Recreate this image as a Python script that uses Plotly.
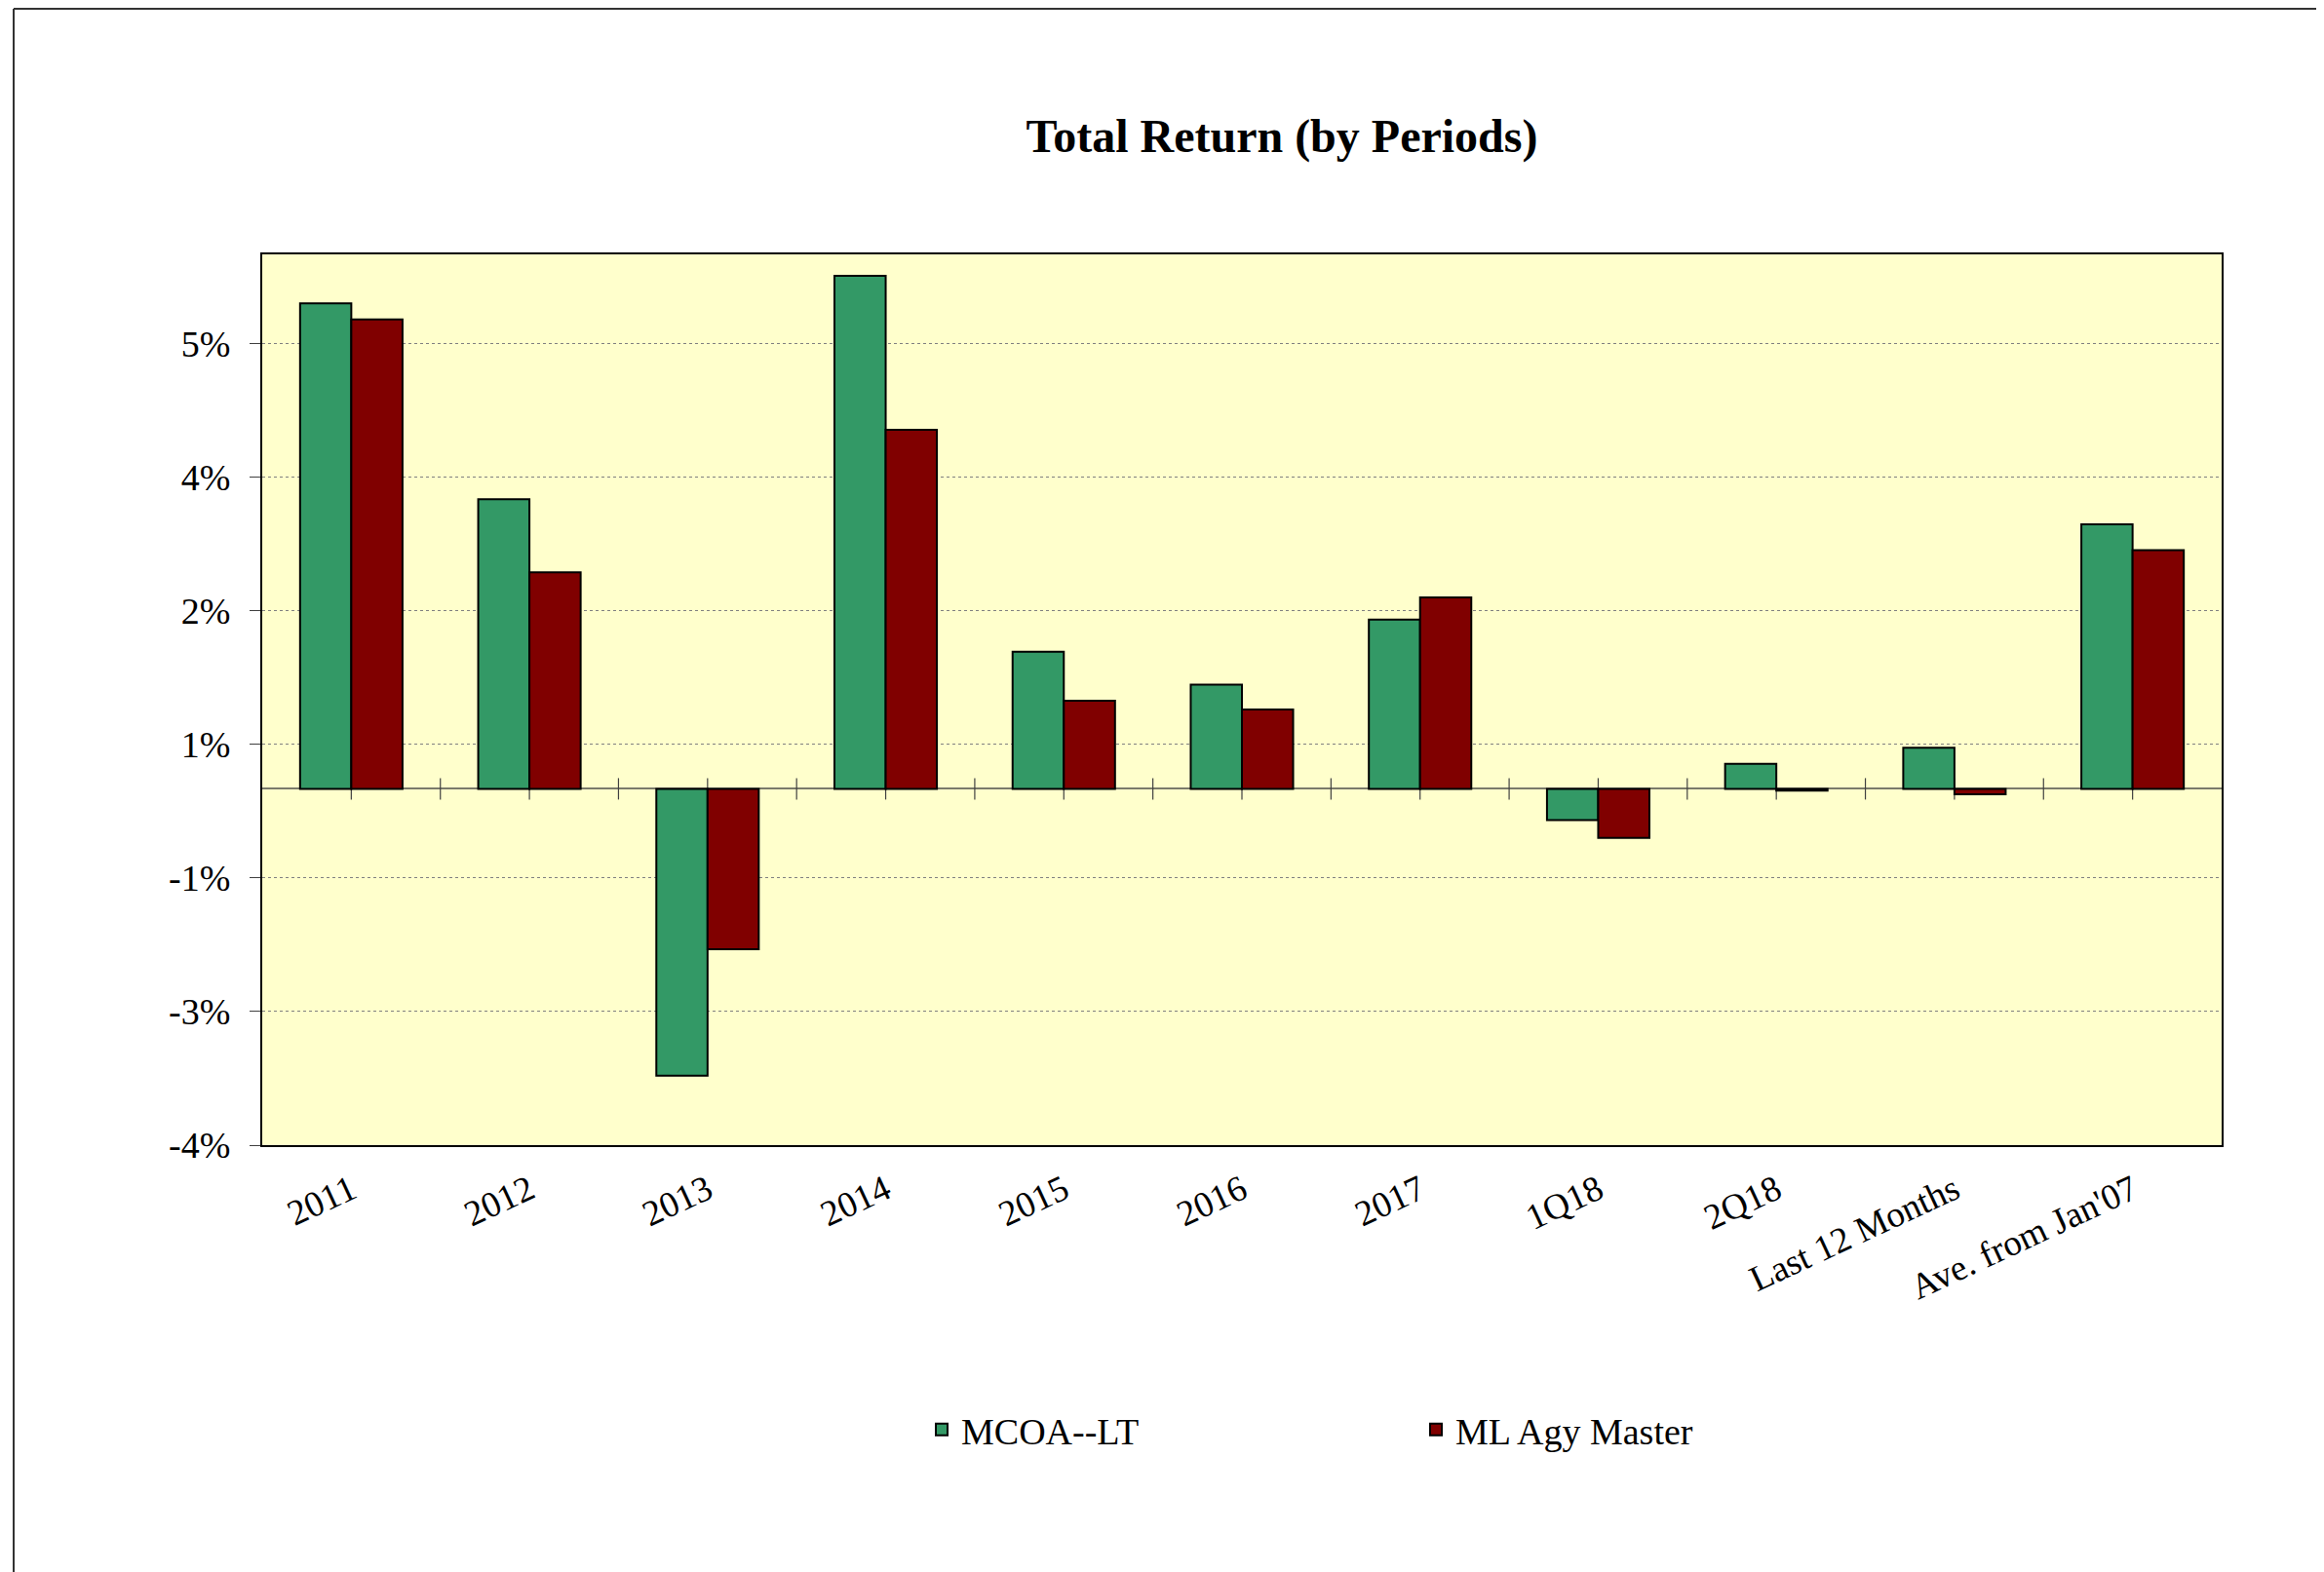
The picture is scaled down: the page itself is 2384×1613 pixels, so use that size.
import plotly.graph_objects as go

categories = ["2011", "2012", "2013", "2014", "2015", "2016", "2017",
              "1Q18", "2Q18", "Last 12 Months", "Ave. from Jan'07"]
mcoa_lt = [5.45, 3.25, -3.22, 5.76, 1.54, 1.17, 1.90, -0.35, 0.28, 0.46, 2.97]
ml_agy_master = [5.27, 2.43, -1.80, 4.03, 0.99, 0.89, 2.15, -0.55, -0.02, -0.06, 2.68]

y_tickvals = [-4, -2.5, -1, 0.5, 2, 3.5, 5]
y_ticktext = ["-4%", "-3%", "-1%", "1%", "2%", "4%", "5%"]

OFF = 8  # page body margin
W, H = 2384 - OFF, 1613 - OFF
PLOT_L, PLOT_R, PLOT_T, PLOT_B = 269, 2279, 261, 1175  # page pixel positions
L = PLOT_L - OFF
T = PLOT_T - OFF
R = OFF + W - PLOT_R
B = OFF + H - PLOT_B
pw, ph = PLOT_R - PLOT_L, PLOT_B - PLOT_T

FONT = "Liberation Serif"

fig = go.Figure()
fig.add_trace(go.Bar(name="MCOA--LT", x=categories, y=mcoa_lt,
                     marker=dict(color="#339966", line=dict(color="black", width=2))))
fig.add_trace(go.Bar(name="ML Agy Master", x=categories, y=ml_agy_master,
                     marker=dict(color="#800000", line=dict(color="black", width=2))))


def px_x(px):
    return (px - PLOT_L) / pw


def px_y(py):
    return (PLOT_B - py) / ph


shapes = []
# tick marks crossing the zero line, at category centers and boundaries
n = len(categories)
positions = [i for i in range(n)] + [i + 0.5 for i in range(n - 1)]
for p in positions:
    shapes.append(dict(type="line", xref="x", yref="y", x0=p, x1=p,
                       ysizemode="pixel", yanchor=0, y0=-11, y1=11,
                       line=dict(color="#404040", width=1.2), layer="between"))

# outer chart border (top & left visible)
shapes.append(dict(type="line", xref="paper", yref="paper",
                   x0=px_x(14), x1=px_x(2420), y0=px_y(9), y1=px_y(9),
                   line=dict(color="#333333", width=2), layer="above"))
shapes.append(dict(type="line", xref="paper", yref="paper",
                   x0=px_x(14), x1=px_x(14), y0=px_y(9), y1=px_y(1650),
                   line=dict(color="#333333", width=2), layer="above"))

fig.update_layout(
    width=W, height=H,
    margin=dict(l=L, r=R, t=T, b=B),
    paper_bgcolor="white",
    plot_bgcolor="#FFFFCC",
    font=dict(family=FONT, size=36, color="black"),
    barmode="group",
    bargap=0.425,
    bargroupgap=0,
    title=dict(text="<b>Total Return (by Periods)</b>",
               font=dict(family=FONT, size=48, color="black"),
               x=px_x(1315), xref="paper", xanchor="center",
               y=1 - (139 - OFF) / H, yref="container", yanchor="middle"),
    showlegend=True,
    legend=dict(orientation="h", x=px_x(946), xanchor="left",
                y=px_y(1467), yanchor="middle",
                font=dict(family=FONT, size=38, color="black"),
                entrywidth=462, entrywidthmode="pixels",
                bgcolor="rgba(0,0,0,0)"),
    shapes=shapes,
)

fig.update_xaxes(
    type="category",
    range=[-0.5, n - 0.5],
    showline=True, linecolor="black", linewidth=2, mirror=True,
    ticks="", tickangle=-25,
    tickfont=dict(family=FONT, size=37, color="black"),
    ticklabelstandoff=8,
    showgrid=False, zeroline=False,
)

fig.update_yaxes(
    range=[-4, 6],
    tickvals=y_tickvals, ticktext=y_ticktext,
    showline=True, linecolor="black", linewidth=2, mirror=True,
    ticks="outside", ticklen=11, tickcolor="#404040", tickwidth=1,
    tickfont=dict(family=FONT, size=38, color="black"),
    ticklabelstandoff=12,
    showgrid=True, gridcolor="#808080", gridwidth=1, griddash="dot",
    zeroline=True, zerolinecolor="#7a7a6a", zerolinewidth=1.5,
)

fig.write_html("out.html")
